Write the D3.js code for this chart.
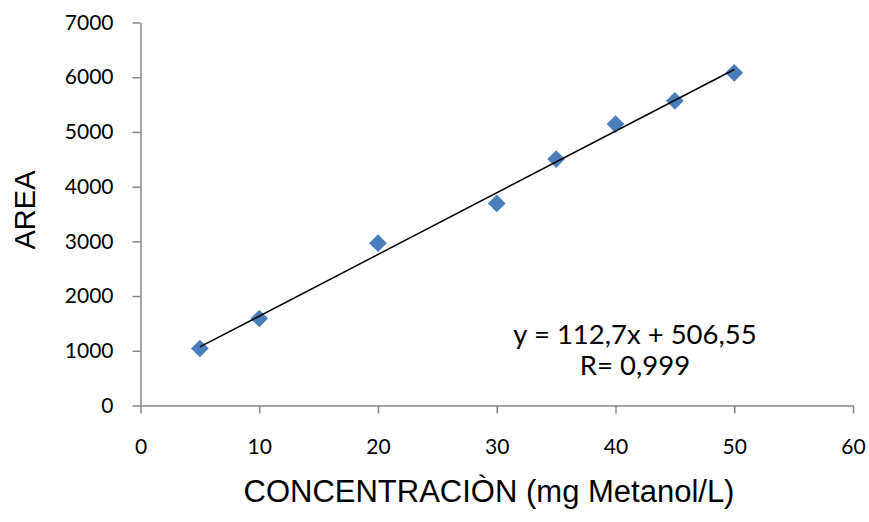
<!DOCTYPE html>
<html>
<head>
<meta charset="utf-8">
<script src="https://cdn.jsdelivr.net/npm/d3@7"></script>
<style>
  body { margin: 0; background: #fff; }
  svg { display: block; }
</style>
</head>
<body>
<svg></svg>
<script>
// data
let concentracion = [5, 10, 20, 30, 35, 40, 45, 50]
let area = [1042, 1590, 2967, 3693, 4503, 5143, 5568, 6080]
let xTicks = [0, 10, 20, 30, 40, 50, 60]
let yTicks = [0, 1000, 2000, 3000, 4000, 5000, 6000, 7000]
let slope = 112.7
let intercept = 506.55
let eqText = ['y = 112,7x + 506,55', 'R= 0,999']

let w = 869
let h = 522

let svg = d3.select('svg').attr('width', w).attr('height', h)

let xScale = d3.scaleLinear().domain([0, 60]).range([140.5, 853])
let yScale = d3.scaleLinear().domain([0, 7000]).range([405.5, 22.5])

let axisColor = '#868686'
let tickFont = '"Lato", "Open Sans", sans-serif'

// x axis
let xAxis = d3.axisBottom(xScale).tickValues(xTicks).tickFormat(d3.format('d'))
  .tickSize(8).tickSizeOuter(0).tickPadding(26)
let gx = svg.append('g')
  .attr('transform', 'translate(0,' + yScale(0) + ')')
  .call(xAxis)
gx.select('.domain').attr('stroke', axisColor).attr('stroke-width', 1.5)
gx.selectAll('.tick line').attr('stroke', axisColor).attr('stroke-width', 1.5)
gx.selectAll('.tick text').attr('fill', '#000').style('font-family', tickFont).style('font-size', '21px')

// y axis
let yAxis = d3.axisLeft(yScale).tickValues(yTicks).tickFormat(d3.format('d'))
  .tickSize(8).tickSizeOuter(0).tickPadding(19)
let gy = svg.append('g')
  .attr('transform', 'translate(' + xScale(0) + ',0)')
  .call(yAxis)
gy.select('.domain').attr('stroke', axisColor).attr('stroke-width', 1.5)
gy.selectAll('.tick line').attr('stroke', axisColor).attr('stroke-width', 1.5)
gy.selectAll('.tick text').attr('fill', '#000').style('font-family', tickFont).style('font-size', '21px')

// points
let diamond = d3.symbol().type(d3.symbolDiamond2).size(200)
svg.selectAll('path.pt')
  .data(concentracion)
  .enter()
  .append('path')
  .attr('class', 'pt')
  .attr('d', diamond)
  .attr('transform', (d, i) => 'translate(' + xScale(d) + ',' + yScale(area[i]) + ')')
  .attr('fill', '#4a7ebb')

// trend line
let xMin = d3.min(concentracion)
let xMax = d3.max(concentracion)
svg.append('line')
  .attr('x1', xScale(xMin))
  .attr('y1', yScale(slope * xMin + intercept))
  .attr('x2', xScale(xMax))
  .attr('y2', yScale(slope * xMax + intercept))
  .attr('stroke', '#000')
  .attr('stroke-width', 1.5)

// equation
svg.selectAll('text.eq')
  .data(eqText)
  .enter()
  .append('text')
  .attr('class', 'eq')
  .attr('x', 635)
  .attr('y', (d, i) => 344 + i * 31)
  .attr('text-anchor', 'middle')
  .style('font-family', tickFont)
  .style('font-size', '27.5px')
  .text((d) => d)

// axis titles
svg.append('text')
  .attr('transform', 'translate(35,210) rotate(-90)')
  .attr('text-anchor', 'middle')
  .style('font-family', '"Liberation Sans", Arial, sans-serif')
  .style('font-size', '29px')
  .text('AREA')

svg.append('text')
  .attr('x', 489)
  .attr('y', 502)
  .attr('text-anchor', 'middle')
  .style('font-family', '"Liberation Sans", Arial, sans-serif')
  .style('font-size', '31px')
  .text('CONCENTRACIÒN (mg Metanol/L)')
</script>
</body>
</html>
